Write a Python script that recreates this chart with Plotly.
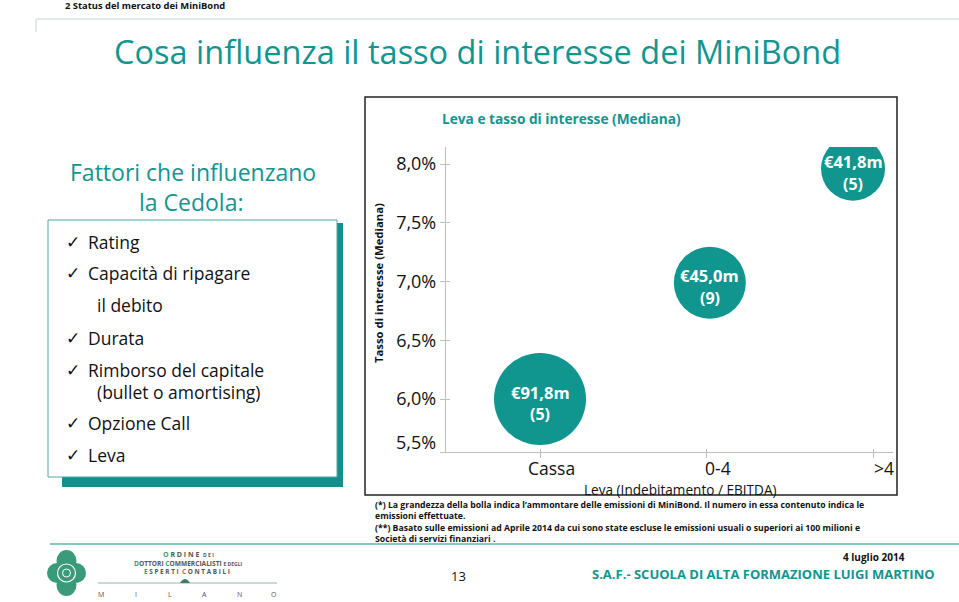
import plotly.graph_objects as go

W, H = 959, 602

# ---------------- data ----------------
leverage_categories = ["Cassa", "0-4", ">4"]
category_pos = [1, 2, 3]
bubble_leverage_pos = [1.0, 2.02, 2.88]
median_rate_pct = [6.0, 6.99, 7.96]
issued_amount_m = [91.8, 45.0, 41.8]
issue_count = [5, 9, 5]
rate_tick_vals = [6.0, 6.5, 7.0, 7.5, 8.0]
rate_tick_text = ["6,0%", "6,5%", "7,0%", "7,5%", "8,0%"]
axis_floor_val = 5.55
axis_floor_text = "5,5%"
factor_lines = [
    ("✓", "Rating"),
    ("✓", "Capacità di ripagare"),
    ("", "il debito"),
    ("✓", "Durata"),
    ("✓", "Rimborso del capitale"),
    ("", "(bullet o amortising)"),
    ("✓", "Opzione Call"),
    ("✓", "Leva"),
]

# ---------------- style ----------------
TEAL = "#11958f"
BUBBLE = "#11968f"
AXIS = "#bdbdbd"
FONT = "Open Sans"
bubble_px = [92, 72, 64]
factor_y = [242, 273, 305, 338, 370, 392, 423, 455]


def px(x):
    return x / W


def py(y):
    return 1 - y / H


annotations = []


def ann(text, x, y, size, color="#111111", bold=False, xanchor="center",
        yanchor="middle", family=FONT, **kw):
    if bold:
        text = "<b>" + text + "</b>"
    annotations.append(dict(text=text, x=px(x), y=py(y), xref="paper", yref="paper",
                            showarrow=False, xanchor=xanchor, yanchor=yanchor,
                            font=dict(size=size, color=color, family=family), **kw))


shapes = []


def rect(x0, y0, x1, y1, fill=None, line=None, lw=1, layer="below"):
    shapes.append(dict(type="rect", xref="paper", yref="paper",
                       x0=px(x0), x1=px(x1), y0=py(y1), y1=py(y0),
                       fillcolor=fill if fill else "rgba(0,0,0,0)",
                       line=dict(color=line if line else "rgba(0,0,0,0)", width=lw if line else 0),
                       layer=layer))


def hline(x0, x1, y, color, w=1):
    shapes.append(dict(type="line", xref="paper", yref="paper", x0=px(x0), x1=px(x1),
                       y0=py(y), y1=py(y), line=dict(color=color, width=w), layer="below"))


def vline(x, y0, y1, color, w=1):
    shapes.append(dict(type="line", xref="paper", yref="paper", x0=px(x), x1=px(x),
                       y0=py(y0), y1=py(y1), line=dict(color=color, width=w), layer="below"))


def circle(cx, cy, r, fill=None, line=None, lw=1, ry=None):
    ry = ry if ry else r
    shapes.append(dict(type="circle", xref="paper", yref="paper",
                       x0=px(cx - r), x1=px(cx + r), y0=py(cy + ry), y1=py(cy - ry),
                       fillcolor=fill if fill else "rgba(0,0,0,0)",
                       line=dict(color=line if line else "rgba(0,0,0,0)", width=lw if line else 0),
                       layer="below"))


# ---------------- header ----------------
ann("2 Status del mercato dei MiniBond", 63, 6, 9.4, bold=True, xanchor="left")
hline(36, 959, 19, "#d8e0e8", 1.5)
vline(36, 19, 32, "#d8e0e8", 1.5)
ann("Cosa influenza il tasso di interesse dei MiniBond", 477, 51, 32.5, color=TEAL)

# ---------------- left panel ----------------
ann("Fattori che influenzano", 193, 172, 23, color=TEAL)
ann("la Cedola:", 191, 202, 23, color=TEAL)
rect(62, 223, 343, 487, fill="#12918c")
rect(48, 220, 337, 477, fill="white", line="#4aa8a3", lw=1)
for (mark, txt), yy in zip(factor_lines, factor_y):
    if mark:
        ann("<b>" + mark + "</b>", 64, yy, 17, family="DejaVu Sans", xanchor="left")
        ann(txt, 86, yy, 17.5, xanchor="left")
    else:
        ann(txt, 95, yy, 17.5, xanchor="left")

# ---------------- chart frame & texts ----------------
rect(365, 97, 897, 495, line="#222222", lw=1.5, layer="above")
ann("Leva e tasso di interesse (Mediana)", 561, 118, 13.7, color=TEAL, bold=True)
ann("Tasso di interesse (Mediana)", 378, 283, 11.3, bold=True, textangle=-90)
ann(axis_floor_text, 438, 442, 18, xanchor="right")
ann("Leva (Indebitamento / EBITDA)", 680, 489.5, 13.6, borderpad=0)

# ---------------- footnotes ----------------
FN = 8.7
ann("(*) La grandezza della bolla indica l’ammontare delle emissioni di MiniBond. Il numero in essa contenuto indica le",
    373, 505, FN, bold=True, xanchor="left")
ann("emissioni effettuate.", 373, 516, FN, bold=True, xanchor="left")
ann("(**) Basato sulle emissioni ad Aprile 2014 da cui sono state escluse le emissioni usuali o superiori ai 100 milioni e",
    373, 528, FN, bold=True, xanchor="left")
ann("Società di servizi finanziari .", 373, 539, FN, bold=True, xanchor="left")
hline(50, 959, 544, "#5fb3ae", 1.5)

# ---------------- footer ----------------
ann("4 luglio 2014", 907, 557, 10, bold=True, xanchor="right")
ann("S.A.F.- SCUOLA DI ALTA FORMAZIONE LUIGI MARTINO", 937, 574, 13, color=TEAL, bold=True, xanchor="right")
ann("13", 458, 576, 13)

# logo
LOGO = "#3a9a7a"
circle(57, 573, 10, fill=LOGO)
circle(76, 573, 10, fill=LOGO)
circle(66.5, 561, 10, ry=11, fill=LOGO)
circle(66.5, 585, 10, ry=11, fill=LOGO)
circle(66.5, 573, 10, fill=LOGO)
circle(66.5, 573, 9, line="white", lw=1.2)
circle(66.5, 573, 4, line="white", lw=1)
G = "#3a9a7a"
D = "#555555"
ann(f"<span style='color:{G}'>O</span> R D I N E  <span style='font-size:5px'>D E I</span>", 188, 554, 7, color=D, bold=True)
ann(f"<span style='color:{G}'>D</span>OTTORI <span style='color:{G}'>C</span>OMMERCIALISTI <span style='font-size:5px'>E DEGLI</span>",
    188, 563, 6.6, color=D, bold=True)
ann(f"<span style='color:{G}'>E</span> S P E R T I  <span style='color:{G}'>C</span> O N T A B I L I", 187, 571, 6.4, color=D, bold=True)
hline(98, 277, 583, "#8fb8a8", 1)
shapes.append(dict(type="path", xref="paper", yref="paper",
                   path=f"M {px(180)},{py(583)} Q {px(185)},{py(575)} {px(190)},{py(583)} Z",
                   fillcolor="#3f7f66", line=dict(width=0), layer="below"))
for i, ch in enumerate("MILANO"):
    ann(ch, 101 + i * 34.5, 594, 7, color=D)

# ---------------- bubble chart ----------------
fig = go.Figure()
fig.add_trace(go.Scatter(
    x=bubble_leverage_pos, y=median_rate_pct, mode="markers",
    marker=dict(size=bubble_px, color=BUBBLE, line=dict(width=0), opacity=1),
    hoverinfo="skip", showlegend=False,
))
fig.add_trace(go.Scatter(x=bubble_leverage_pos, y=median_rate_pct, xaxis="x2", yaxis="y2",
                         mode="markers", marker=dict(opacity=0), hoverinfo="skip", showlegend=False))

for xv, yv, amt, n in zip(bubble_leverage_pos, median_rate_pct, issued_amount_m, issue_count):
    amt_txt = "€" + f"{amt:.1f}".replace(".", ",") + "m"
    annotations.append(dict(text=f"<b>{amt_txt}</b>", x=xv, y=yv, xref="x", yref="y",
                            showarrow=False, yshift=7, font=dict(size=16.5, color="white", family=FONT)))
    annotations.append(dict(text=f"<b>({n})</b>", x=xv, y=yv, xref="x", yref="y",
                            showarrow=False, yshift=-15, font=dict(size=16, color="white", family=FONT)))

for cat, pos in zip(leverage_categories, category_pos):
    annotations.append(dict(text=cat, x=pos, y=py(468), xref="x", yref="paper", xshift=11,
                            yanchor="middle", showarrow=False, borderpad=0,
                            font=dict(size=17.5, color="#111111", family=FONT)))

xdom = [px(446), px(893)]
ydom = [py(452), py(147)]
xr = [0.4354, 3.12]
yr = [axis_floor_val, 8.145]

fig.update_layout(
    width=W, height=H, margin=dict(l=0, r=0, t=0, b=0),
    paper_bgcolor="white", plot_bgcolor="rgba(0,0,0,0)",
    showlegend=False,
    xaxis=dict(domain=xdom, range=xr, tickvals=category_pos, showticklabels=False,
               ticks="outside", ticklen=5, tickcolor=AXIS, tickwidth=1,
               showline=True, linecolor=AXIS, linewidth=1.3, showgrid=False, zeroline=False,
               fixedrange=True),
    xaxis2=dict(domain=xdom, range=xr, overlaying="x", anchor="y2", tickvals=category_pos,
                showticklabels=False, ticks="inside", ticklen=3, tickcolor=AXIS, tickwidth=1,
                showline=False, showgrid=False, zeroline=False),
    yaxis=dict(domain=ydom, range=yr, tickvals=[axis_floor_val] + rate_tick_vals,
               ticktext=[""] + rate_tick_text, ticks="outside", ticklen=5, tickcolor=AXIS,
               tickwidth=1, tickfont=dict(size=18, color="#111111", family=FONT),
               showline=True, linecolor=AXIS, linewidth=1.3, showgrid=False, zeroline=False,
               fixedrange=True),
    yaxis2=dict(domain=ydom, range=yr, overlaying="y", anchor="x2", tickvals=rate_tick_vals,
                showticklabels=False, ticks="inside", ticklen=4, tickcolor=AXIS, tickwidth=1,
                showline=False, showgrid=False, zeroline=False),
    annotations=annotations,
    shapes=shapes,
)

fig.write_html("out.html")
